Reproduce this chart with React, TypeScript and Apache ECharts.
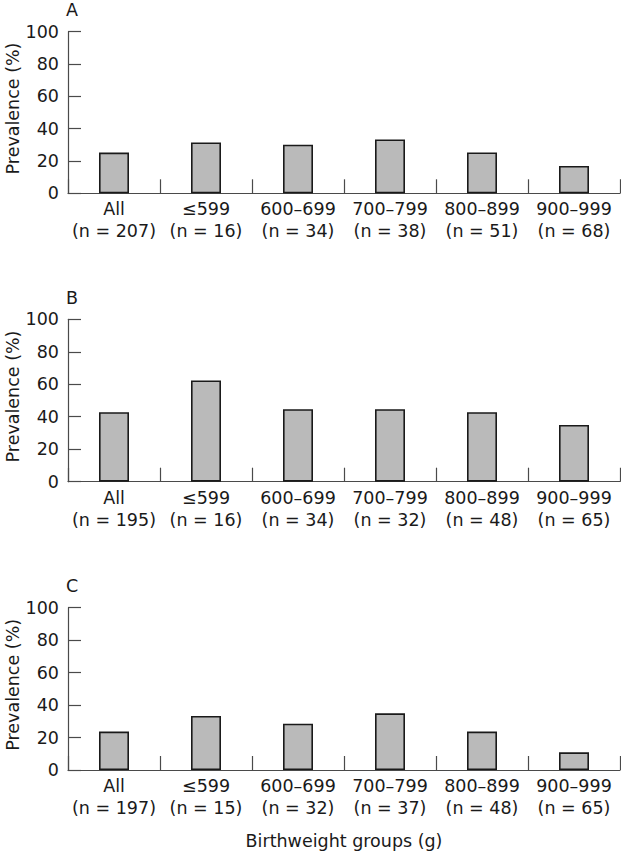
import React, { useEffect, useRef } from "react";
import * as echarts from "echarts";

const categories = ["All", "≤599", "600–699", "700–799", "800–899", "900–999"];
const panelLetters = ["A", "B", "C"];
const countsA = [207, 16, 34, 38, 51, 68];
const countsB = [195, 16, 34, 32, 48, 65];
const countsC = [197, 15, 32, 37, 48, 65];
const valuesA = [25.2, 31.5, 30.1, 33.3, 25.3, 16.9];
const valuesB = [42.8, 62.3, 44.6, 44.6, 42.8, 34.9];
const valuesC = [23.7, 33.3, 28.5, 34.9, 23.7, 10.9];
const yTicks = { min: 0, max: 100, interval: 20 };
const yAxisName = "Prevalence (%)";
const xAxisName = "Birthweight groups (g)";

const panelCounts = [countsA, countsB, countsC];
const panelValues = [valuesA, valuesB, valuesC];

const FONT = "DejaVu Sans";
const FS = 17.5;
const TEXT_COLOR = "#1a1a1a";
const AXIS_COLOR = "#4a4a4a";

export default function App() {
  const ref = useRef<HTMLDivElement>(null);

  useEffect(() => {
    if (!ref.current) return;
    const chart = echarts.init(ref.current, null, { renderer: "svg" });
    const tops = [31.7, 319.3, 607.7];
    const heights = [161.6, 162.4, 162.3];

    const grids = tops.map((t, i) => ({
      left: 68,
      width: 552,
      top: t,
      height: heights[i],
      containLabel: false,
      outerBoundsMode: "none",
    }));

    const xAxes = panelCounts.map((counts, i) => ({
      type: "category",
      gridIndex: i,
      data: categories.map((c, j) => `${c}\n(n = ${counts[j]})`),
      axisLine: { show: true, lineStyle: { color: AXIS_COLOR, width: 1.2 } },
      axisTick: {
        show: true,
        inside: true,
        length: 14,
        lineStyle: { color: AXIS_COLOR, width: 1.2 },
      },
      axisLabel: {
        color: TEXT_COLOR,
        fontFamily: FONT,
        fontSize: FS,
        lineHeight: 22,
        margin: 5,
        interval: 0,
      },
      splitLine: { show: false },
      ...(i === 2
        ? {
            name: xAxisName,
            nameLocation: "middle",
            nameGap: 62,
            nameMoveOverlap: false,
            nameTextStyle: { color: TEXT_COLOR, fontFamily: FONT, fontSize: FS },
          }
        : {}),
    }));

    const yAxes = panelCounts.map((_, i) => ({
      type: "value",
      gridIndex: i,
      min: yTicks.min,
      max: yTicks.max,
      interval: yTicks.interval,
      name: yAxisName,
      nameLocation: "middle",
      nameGap: 46,
      nameMoveOverlap: false,
      nameTextStyle: {
        color: TEXT_COLOR,
        fontFamily: FONT,
        fontSize: FS,
        padding: [0, 0, 0, 8],
      },
      axisLine: { show: true, lineStyle: { color: AXIS_COLOR, width: 1.2 } },
      axisTick: {
        show: true,
        inside: true,
        length: 13,
        lineStyle: { color: AXIS_COLOR, width: 1.2 },
      },
      axisLabel: {
        color: TEXT_COLOR,
        fontFamily: FONT,
        fontSize: FS,
        margin: 9,
      },
      splitLine: { show: false },
    }));

    const series = panelValues.map((vals, i) => ({
      type: "bar",
      xAxisIndex: i,
      yAxisIndex: i,
      data: vals,
      barWidth: 30,
      itemStyle: {
        color: "#bababa",
        borderColor: "#1a1a1a",
        borderWidth: 1.6,
      },
    }));

    const letterY = [11, 299, 587];
    const graphic = panelLetters.map((l, i) => ({
      type: "text",
      left: 66,
      top: letterY[i] - 10,
      style: {
        text: l,
        fill: TEXT_COLOR,
        fontFamily: FONT,
        fontSize: FS,
      },
    }));

    chart.setOption({
      animation: false,
      backgroundColor: "#ffffff",
      grid: grids,
      xAxis: xAxes,
      yAxis: yAxes,
      series,
      graphic,
    });

    return () => chart.dispose();
  }, []);

  return (
    <div
      ref={ref}
      style={{ position: "absolute", left: 0, top: 0, width: 621, height: 853 }}
    />
  );
}
